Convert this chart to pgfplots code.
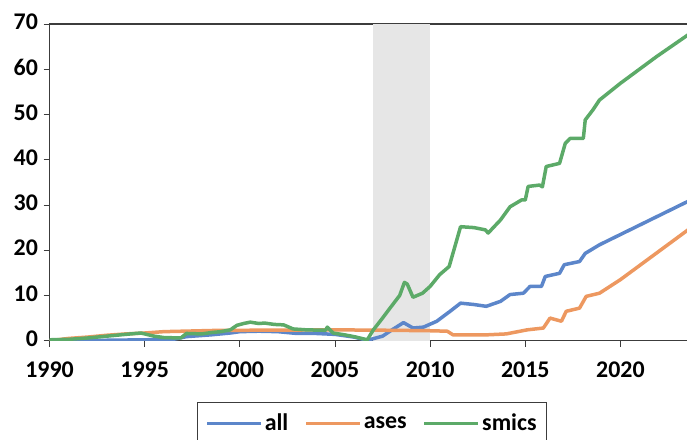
\documentclass[border=0pt]{standalone}
\usepackage{fontspec}
\setmainfont{Carlito}
\usepackage{pgfplots}
\usetikzlibrary{calc}
\pgfplotsset{compat=1.18}
\definecolor{cAll}{RGB}{92,134,202}
\definecolor{cAses}{RGB}{237,152,96}
\definecolor{cSmics}{RGB}{92,170,104}
\definecolor{cShade}{RGB}{230,230,230}
\definecolor{cAxis}{RGB}{60,60,60}
\begin{document}
\begin{tikzpicture}
\begin{axis}[
  name=ax,
  scale only axis,
  width=638.5bp, height=316.7bp,
  xmin=1990, xmax=2023.55, ymin=0, ymax=70,
  xtick={1990,1995,...,2020}, ytick={0,10,...,70},
  xtick pos=bottom, ytick pos=left,
  tick align=outside, major tick length=6bp,
  tick style={cAxis, line width=0.9bp},
  axis line style={cAxis, line width=1.1bp},
  x tick label style={/pgf/number format/1000 sep={}},
  /pgf/number format/assume math mode=true,
  ticklabel style={font=\fontsize{24}{24}\selectfont\bfseries},
  xticklabel style={yshift=-12bp},
  yticklabel style={xshift=-2bp, yshift=2bp},
  clip=true,
  legend columns=3,
  legend style={at={(0.505,0)}, anchor=north, yshift=-61bp,
    draw=cAxis, line width=1bp, inner xsep=8bp, inner ysep=10bp,
    font=\fontsize{24}{24}\selectfont\bfseries,
    /tikz/every even column/.append style={column sep=14bp}},
  legend image code/.code={\draw[#1, line width=3.5bp] (0bp,0bp) -- (54bp,0bp);},
]
\fill[cShade] (axis cs:2007,0) rectangle (axis cs:2010,70);
\addplot[cAll, line width=3.5bp, line join=round] coordinates {
(1990,0.0) (1993,0.1) (1995,0.2) (1996.5,0.3) (1997.2,0.9) (1998.5,1.3) (1999.5,1.7) (2000,2.0) (2001,2.1) (2002,2.0) (2003,1.6) (2004,1.6) (2005,1.4) (2006,0.8) (2006.7,0.1) (2007.5,1.0) (2008.0,2.4) (2008.6,4.0) (2009.1,2.8) (2009.65,3.0) (2010.35,4.3) (2011.05,6.5) (2011.6,8.3) (2012.3,8.0) (2012.95,7.6) (2013.7,8.7) (2014.2,10.2) (2014.9,10.5) (2015.25,12.0) (2015.85,12.0) (2016.05,14.2) (2016.8,14.9) (2017.05,16.8) (2017.85,17.5) (2018.15,19.3) (2018.9,21.2) (2023.55,30.8)
};
\addlegendentry{all}
\addplot[cAses, line width=3.5bp, line join=round] coordinates {
(1990,0.0) (1991,0.5) (1992,0.8) (1993,1.2) (1994,1.5) (1995,1.7) (1996,2.0) (1998,2.2) (1999,2.3) (2000,2.3) (2005,2.4) (2008,2.3) (2010,2.2) (2010.9,2.1) (2011.2,1.3) (2013,1.3) (2014,1.5) (2015.1,2.4) (2015.95,2.8) (2016.3,5.0) (2016.9,4.3) (2017.15,6.5) (2017.85,7.2) (2018.2,9.8) (2018.9,10.5) (2020,13.5) (2023.55,24.5)
};
\addlegendentry{ases}
\addplot[cSmics, line width=3.5bp, line join=round] coordinates {
(1990.0,0.2) (1991.0,0.3) (1992.0,0.6) (1993.0,1.0) (1994.0,1.4) (1994.8,1.7) (1995.5,1.0) (1996.0,0.7) (1996.9,0.6) (1997.2,1.6) (1998.0,1.5) (1998.5,1.8) (1999.0,2.0) (1999.5,2.4) (1999.85,3.4) (2000.2,3.8) (2000.55,4.1) (2001.0,3.8) (2001.3,3.9) (2001.8,3.6) (2002.3,3.5) (2002.8,2.6) (2003.5,2.4) (2004.5,2.3) (2004.6,3.0) (2004.9,1.7) (2005.5,1.3) (2006.0,0.9) (2006.7,0.2) (2007.0,2.3) (2007.5,5.0) (2008.0,7.8) (2008.4,10.0) (2008.65,12.9) (2008.8,12.5) (2009.1,9.6) (2009.6,10.5) (2010.0,12.0) (2010.5,14.6) (2011.0,16.4) (2011.3,20.8) (2011.6,25.2) (2012.3,25.0) (2012.9,24.5) (2013.05,23.8) (2013.7,26.7) (2014.2,29.6) (2014.8,31.1) (2015.0,31.1) (2015.15,34.1) (2015.75,34.4) (2015.9,34.0) (2016.1,38.5) (2016.8,39.2) (2017.1,43.6) (2017.35,44.7) (2018.05,44.7) (2018.15,48.8) (2018.55,51.0) (2018.9,53.2) (2020.0,56.9) (2021.9,62.8) (2023.55,67.6)
};
\addlegendentry{smics}
\end{axis}
\pgfresetboundingbox
\path[use as bounding box] ($(ax.south west)+(-49.5bp,-99.3bp)$) rectangle ($(ax.south west)+(637.5bp,340.7bp)$);
\end{tikzpicture}
\end{document}
